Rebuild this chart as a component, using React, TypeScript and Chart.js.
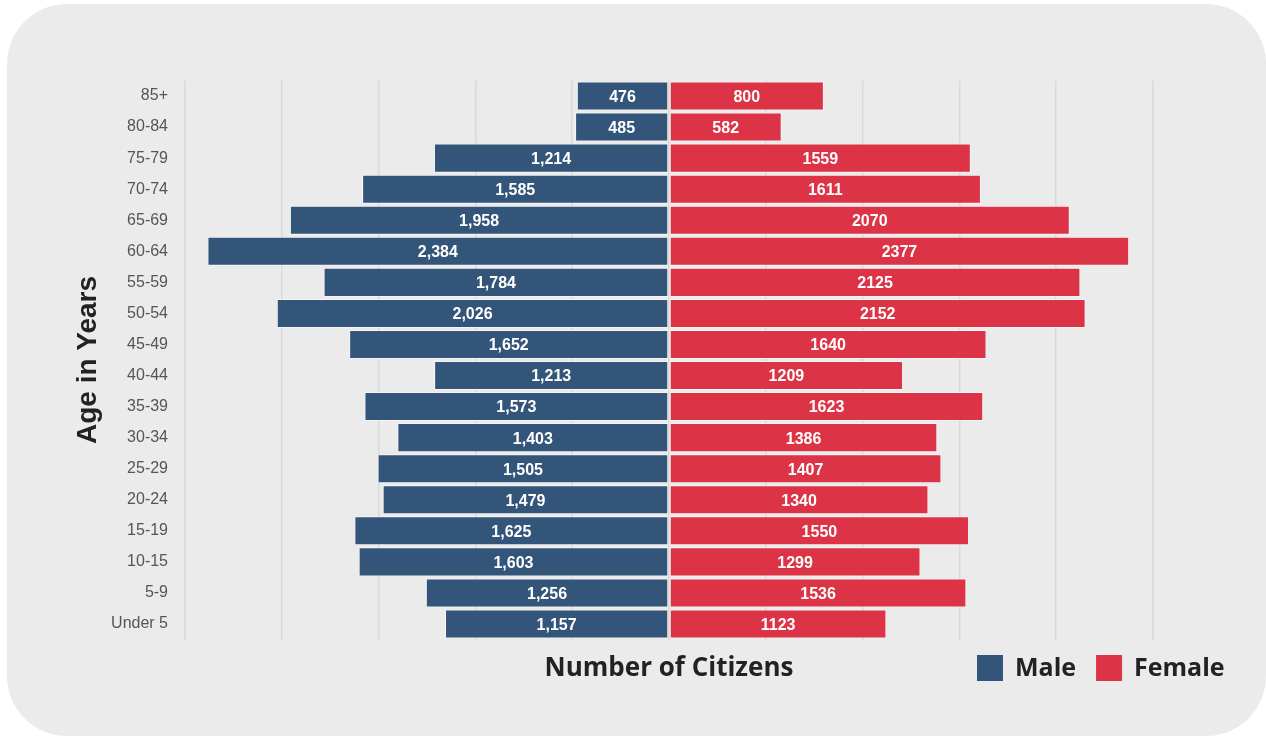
import React, { useEffect, useRef } from "react";
import { Chart, registerables } from "chart.js";

Chart.register(...registerables);

const ageGroups = [
  "85+", "80-84", "75-79", "70-74", "65-69", "60-64", "55-59", "50-54", "45-49",
  "40-44", "35-39", "30-34", "25-29", "20-24", "15-19", "10-15", "5-9", "Under 5",
];
const maleValues = [476, 485, 1214, 1585, 1958, 2384, 1784, 2026, 1652, 1213, 1573, 1403, 1505, 1479, 1625, 1603, 1256, 1157];
const femaleValues = [800, 582, 1559, 1611, 2070, 2377, 2125, 2152, 1640, 1209, 1623, 1386, 1407, 1340, 1550, 1299, 1536, 1123];
const seriesNames = ["Male", "Female"];
const seriesColors = ["#34557a", "#dc3446"];
const xMin = -2500;
const xMax = 2500;
const xStep = 500;

const barLabels = {
  id: "barLabels",
  afterDatasetsDraw(chart: any) {
    const ctx = chart.ctx;
    ctx.save();
    ctx.font = 'bold 16px "Liberation Sans", Arial, sans-serif';
    ctx.fillStyle = "#ffffff";
    ctx.textAlign = "center";
    ctx.textBaseline = "middle";
    chart.data.datasets.forEach((ds: any, i: number) => {
      const meta = chart.getDatasetMeta(i);
      meta.data.forEach((bar: any, j: number) => {
        const { x, y, base } = bar.getProps(["x", "y", "base"], true);
        const v = Math.abs(ds.data[j]);
        const text = i === 0 ? v.toLocaleString("en-US") : String(v);
        ctx.fillText(text, (x + base) / 2, y + 1.5);
      });
    });
    ctx.restore();
  },
};

const bottomLegend = {
  id: "bottomLegend",
  afterDraw(chart: any) {
    const ctx = chart.ctx;
    ctx.save();
    ctx.font = '700 25px "Open Sans", sans-serif';
    ctx.textBaseline = "middle";
    ctx.textAlign = "left";
    let x = chart.chartArea.right - 176;
    const cy = chart.chartArea.bottom + 28.5;
    chart.data.datasets.forEach((ds: any) => {
      ctx.fillStyle = ds.backgroundColor;
      ctx.fillRect(x, cy - 13, 26, 26);
      x += 26 + 12;
      ctx.fillStyle = "#222222";
      ctx.fillText(ds.label, x, cy + 1);
      x += ctx.measureText(ds.label).width + 20;
    });
    ctx.restore();
  },
};

export default function App() {
  const canvasRef = useRef<HTMLCanvasElement | null>(null);

  useEffect(() => {
    if (!canvasRef.current) return;
    const chart = new Chart(canvasRef.current, {
      type: "bar",
      data: {
        labels: ageGroups,
        datasets: [
          {
            label: seriesNames[0],
            data: maleValues.map((v) => -v),
            backgroundColor: seriesColors[0],
            borderColor: "rgba(255,255,255,0.55)",
            borderWidth: 1,
            borderSkipped: false,
          },
          {
            label: seriesNames[1],
            data: femaleValues,
            backgroundColor: seriesColors[1],
            borderColor: "rgba(255,255,255,0.55)",
            borderWidth: 1,
            borderSkipped: false,
          },
        ],
      },
      options: {
        indexAxis: "y",
        responsive: false,
        animation: false,
        barPercentage: 0.935,
        categoryPercentage: 1,
        layout: { padding: { top: 76.5, left: 0, right: 113, bottom: 51.8 } },
        plugins: {
          legend: { display: false },
          tooltip: { enabled: false },
        },
        scales: {
          x: {
            stacked: true,
            min: xMin,
            max: xMax,
            ticks: { display: false, stepSize: xStep },
            grid: { color: "#d9d9d9", lineWidth: 1.5, drawTicks: false },
            border: { display: false },
            title: {
              display: true,
              text: "Number of Citizens",
              color: "#222222",
              font: { family: '"Open Sans", sans-serif', size: 26, weight: "bold" },
              padding: { top: 13.5, bottom: 0 },
            },
          },
          y: {
            stacked: true,
            grid: { display: false, drawTicks: false },
            border: { display: false },
            ticks: {
              color: "#555555",
              padding: 17,
              font: { family: '"Liberation Sans", Arial, sans-serif', size: 16 },
            },
            title: {
              display: true,
              text: "Age in Years",
              color: "#222222",
              font: { family: '"Liberation Sans", Arial, sans-serif', size: 28, weight: "bold" },
              padding: { top: 64, bottom: 0 },
            },
            afterFit: (scale: any) => {
              scale.width = 178;
            },
          },
        },
      },
      plugins: [barLabels, bottomLegend],
    });
    return () => chart.destroy();
  }, []);

  return (
    <div
      style={{
        position: "fixed",
        left: 7,
        top: 4,
        width: 1259,
        height: 732,
        background: "#ebebeb",
        borderRadius: 60,
        overflow: "hidden",
      }}
    >
      <canvas ref={canvasRef} width={1259} height={732} style={{ display: "block" }} />
    </div>
  );
}
